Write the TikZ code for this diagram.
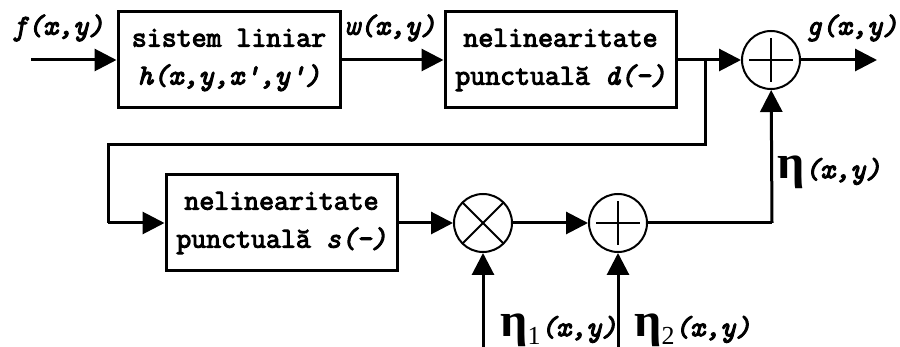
\documentclass[tikz,border=0pt]{standalone}
\usepackage{fontspec}
\setmonofont{Latin Modern Mono}[FakeBold=3.5]
\newfontfamily\etafont{Liberation Serif}
\usetikzlibrary{arrows.meta,positioning,calc}
\newcommand{\etasym}{{\etafont\upshape\bfseries\fontsize{24}{24}\selectfont η}}
\newcommand{\etasub}[1]{\raisebox{-4pt}{\etafont\upshape\fontsize{13}{13}\selectfont #1}}
\tikzset{
  blk/.style={draw,line width=1.5pt,minimum height=48pt,align=center,inner sep=0pt,font=\ttfamily\fontsize{14.5}{19}\selectfont},
  junc/.style={draw,circle,line width=1pt,minimum size=29pt,inner sep=0pt},
  summ/.style={junc,path picture={
    \draw[line width=1pt] ([xshift=-11pt]path picture bounding box.center) -- ([xshift=11pt]path picture bounding box.center);
    \draw[line width=1pt] ([yshift=-11pt]path picture bounding box.center) -- ([yshift=11pt]path picture bounding box.center);}},
  mult/.style={junc,path picture={
    \draw[line width=1pt] (path picture bounding box.south west) -- (path picture bounding box.north east);
    \draw[line width=1pt] (path picture bounding box.north west) -- (path picture bounding box.south east);}},
  flow/.style={-{Triangle[length=11pt,width=11pt]},line width=1.5pt},
  wire/.style={line width=1.5pt},
  sig/.style={font=\ttfamily\itshape\fontsize{14.5}{16}\selectfont,inner sep=0pt}
}

\begin{document}
\begin{tikzpicture}[x=0.5pt,y=-0.5pt]
\useasboundingbox (0,0) rectangle (900,347);
% upper chain
\coordinate (in) at (31,60);
\node[blk,minimum width=111pt] (lin) at (229,60) {sistem liniar\\\itshape h(x,y,x',y')};
\node[blk,minimum width=115.5pt] (nld) at (560.5,60) {nelinearitate\\punctuală \textit{d(-)}};
\node[summ] (sum1) at (771,60) {};
\coordinate (out) at (877,60);
\coordinate (br) at (705,60);
% lower chain
\node[blk,minimum width=115.5pt] (nls) at (281.5,223) {nelinearitate\\punctuală \textit{s(-)}};
\node[mult] (prod) at (483,223) {};
\node[summ] (sum2) at (618,223) {};
\coordinate (fb1) at (705,145);
\coordinate (fb2) at (108,145);
\coordinate (fb3) at (108,223);
\coordinate (up) at (772,223);
\coordinate (n1) at (483,347);
\coordinate (n2) at (618,347);
% connections
\draw[flow] (in) -- (lin);
\draw[flow] (lin) -- (nld);
\draw[flow] (nld) -- (sum1);
\draw[flow] (sum1) -- (out);
\draw[wire] (br) -- (fb1) -- (fb2) -- (fb3);
\draw[flow] (fb3) -- (nls);
\draw[flow] (nls) -- (prod);
\draw[flow] (prod) -- (sum2);
\draw[wire] (sum2) -- (up);
\draw[flow] (up) -- (sum1);
\draw[flow] (n1) -- (prod);
\draw[flow] (n2) -- (sum2);
% labels
\node[sig] (fl) at (58,28) {f(x,y)};
\node[sig] (wl) at (390,28) {w(x,y)};
\node[sig] (gl) at (852,28) {g(x,y)};
\node[sig,anchor=west] (el) at (777,172) {\etasym(x,y)};
\node[sig,anchor=west] (e1) at (500,330) {\etasym\etasub{1}(x,y)};
\node[sig,anchor=west] (e2) at (634,330) {\etasym\etasub{2}(x,y)};
\end{tikzpicture}
\end{document}
